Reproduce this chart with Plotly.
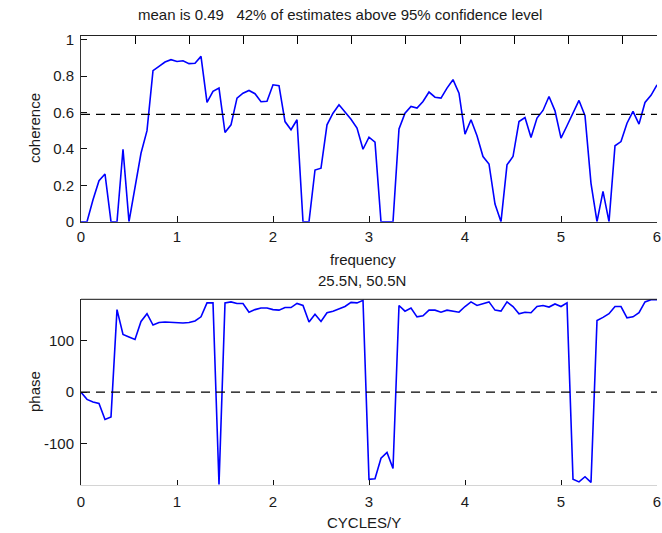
import numpy as np
import plotly.graph_objects as go
from plotly.subplots import make_subplots

# frequency grid (cycles / year), 1/16 spacing
freq = [k / 16 for k in range(97)]

coherence = [
    0, 0, 0.12, 0.225, 0.262, 0, 0, 0.398, 0, 0.2, 0.376, 0.5,
    0.83, 0.853, 0.877, 0.89, 0.88, 0.884, 0.868, 0.87, 0.908, 0.655, 0.716, 0.734,
    0.49, 0.532, 0.679, 0.706, 0.721, 0.703, 0.659, 0.662, 0.752, 0.747, 0.55, 0.505,
    0.56, 0, 0, 0.284, 0.294, 0.532, 0.596, 0.642, 0.602, 0.563, 0.514, 0.398,
    0.464, 0.437, 0, 0, 0, 0.51, 0.596, 0.633, 0.624, 0.66, 0.712, 0.684,
    0.679, 0.734, 0.78, 0.706, 0.481, 0.56, 0.472, 0.358, 0.317, 0.097, 0, 0.312,
    0.358, 0.55, 0.572, 0.462, 0.569, 0.611, 0.688, 0.609, 0.459, 0.527, 0.596, 0.666,
    0.582, 0.211, 0, 0.167, 0, 0.417, 0.44, 0.541, 0.606, 0.536, 0.655, 0.694, 0.752,
]

phase = [
    0, -14, -19, -22, -53, -48, 160, 112, 107, 102, 137, 152,
    130, 135, 136, 135, 135, 134, 135, 138, 146, 173, 173, -179,
    173, 175, 172, 172, 155, 160, 163, 163, 160, 159, 164, 164,
    172, 168, 136, 151, 137, 154, 157, 162, 166, 174, 173, 178,
    -169, -168, -128, -117, -148, 168, 157, 163, 146, 148, 159, 159,
    155, 159, 157, 155, 166, 175, 168, 171, 175, 159, 157, 175,
    166, 152, 155, 154, 166, 168, 165, 171, 166, 173, -169, -174,
    -164, -175, 139, 145, 152, 166, 166, 144, 146, 154, 175, 179, 179,
]

conf_level = 0.59
zero_phase = 0
x_limits = [0, 6]

coh_ticks = [0, 0.2, 0.4, 0.6, 0.8, 1]
coh_ticklabels = ["0", "0.2", "0.4", "0.6", "0.8", "1"]
phase_ticks = [-100, 0, 100]
phase_ticklabels = ["-100", "0", "100"]
x_ticks = [0, 1, 2, 3, 4, 5, 6]
# the top frame of the coherence panel carries a differently-spaced tick set
top_limits = [0, 10.635]
top_ticks = [1, 2, 3, 4, 5, 6, 7, 8, 9, 10]

title_text = "mean is 0.49   42% of estimates above 95% confidence level"
subtitle_text = "25.5N, 50.5N"

W, H = 662, 533
ML, MR, MT, MB = 81, 5, 36, 48
PW, PH = W - ML - MR, H - MT - MB


def px_x(x):
    return (x - ML) / PW


def px_y(y):
    return (H - MB - y) / PH


top_dom = [px_y(221.7), 1.0]
bot_dom = [0.0, px_y(299.3)]

fig = make_subplots(rows=2, cols=1)

blue = "#0000ff"
fig.add_trace(go.Scatter(x=freq, y=coherence, mode="lines",
                         line=dict(color=blue, width=1.6), showlegend=False),
              row=1, col=1)
fig.add_trace(go.Scatter(x=x_limits, y=[conf_level, conf_level], mode="lines",
                         line=dict(color="black", width=1.3, dash="9px,6px"),
                         showlegend=False), row=1, col=1)
fig.add_trace(go.Scatter(x=freq, y=phase, mode="lines",
                         line=dict(color=blue, width=1.6), showlegend=False),
              row=2, col=1)
fig.add_trace(go.Scatter(x=x_limits, y=[zero_phase, zero_phase], mode="lines",
                         line=dict(color="black", width=1.3, dash="9px,6px"),
                         showlegend=False), row=2, col=1)

font = dict(family="Liberation Sans, Arial, sans-serif", size=15, color="#1a1a1a")

fig.update_layout(
    template="none",
    width=W, height=H,
    margin=dict(l=ML, r=MR, t=MT, b=MB, autoexpand=False),
    paper_bgcolor="white", plot_bgcolor="white",
    font=font,
    showlegend=False,
)

fig.update_xaxes(row=1, col=1, domain=[0, 1], range=x_limits,
                 tickvals=x_ticks, ticks="inside", ticklen=6, tickcolor="#111",
                 showline=True, linecolor="#333", linewidth=1, mirror=False,
                 showgrid=False, zeroline=False, automargin=False,
                 ticklabelstandoff=1)
fig.update_yaxes(row=1, col=1, domain=top_dom, range=[0, 1.02],
                 tickvals=coh_ticks, ticktext=coh_ticklabels,
                 ticks="inside", ticklen=6, tickcolor="#111",
                 showline=True, linecolor="#333", linewidth=1,
                 showgrid=False, zeroline=False, automargin=False,
                 ticklabelstandoff=3)
fig.update_xaxes(row=2, col=1, domain=[0, 1], range=x_limits,
                 tickvals=x_ticks, ticks="inside", ticklen=5, tickcolor="#111",
                 showline=True, linecolor="#d4d4d4", linewidth=1,
                 showgrid=False, zeroline=False, automargin=False,
                 ticklabelstandoff=3)
fig.update_yaxes(row=2, col=1, domain=bot_dom, range=[-180, 180],
                 tickvals=phase_ticks, ticktext=phase_ticklabels,
                 ticks="inside", ticklen=6, tickcolor="#111",
                 showline=True, linecolor="#222", linewidth=1,
                 showgrid=False, zeroline=False, automargin=False,
                 ticklabelstandoff=3)

# top frame of the coherence panel (own tick spacing)
fig.update_layout(xaxis3=dict(overlaying="x", anchor="y", side="top",
                              range=top_limits, tickvals=top_ticks,
                              showticklabels=False, ticks="inside", ticklen=8,
                              tickwidth=1.2, tickcolor="#000", showline=True,
                              linecolor="#222", linewidth=1, showgrid=False,
                              zeroline=False, automargin=False))
fig.add_trace(go.Scatter(x=top_limits, y=[None, None], mode="lines",
                         xaxis="x3", yaxis="y", showlegend=False,
                         hoverinfo="skip"))

# top frame line of the phase panel
fig.add_shape(type="line", xref="x2 domain", yref="y2 domain",
              x0=0, x1=1, y0=1, y1=1, line=dict(color="#111", width=1))

ann = [
    dict(text=title_text, x=px_x(340), y=px_y(15)),
    dict(text="frequency", x=px_x(363), y=px_y(259.3)),
    dict(text=subtitle_text, x=px_x(362), y=px_y(280)),
    dict(text="CYCLES/Y", x=px_x(364), y=px_y(522)),
    dict(text="coherence", x=px_x(34), y=px_y(128), textangle=-90),
    dict(text="phase", x=px_x(34), y=px_y(392), textangle=-90),
]
for a in ann:
    fig.add_annotation(xref="paper", yref="paper", showarrow=False,
                       xanchor="center", yanchor="middle", font=font, **a)

fig.write_html("out.html")
